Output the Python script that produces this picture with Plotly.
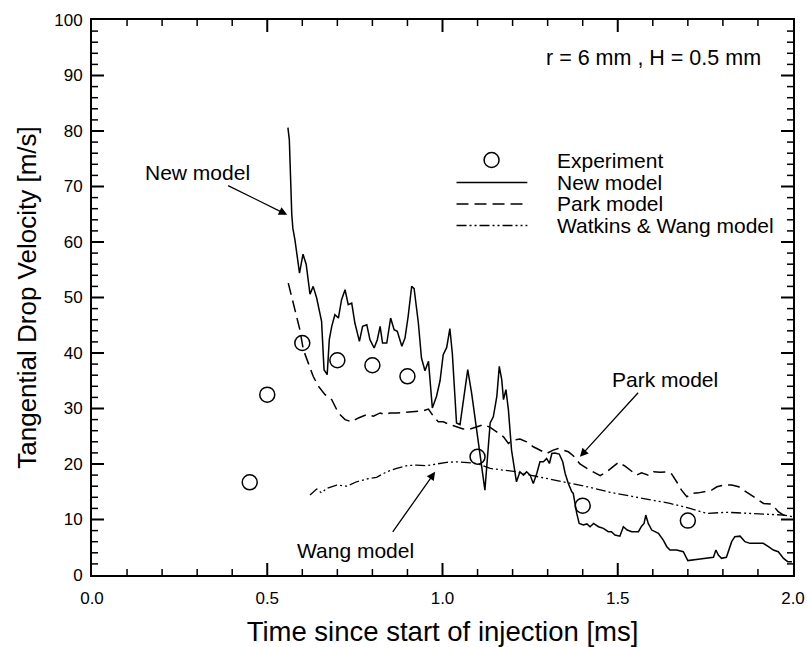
import plotly.graph_objects as go

# ---------------- data ----------------
exp_t = [0.45, 0.50, 0.60, 0.70, 0.80, 0.90, 1.10, 1.40, 1.70]
exp_v = [16.7, 32.5, 41.8, 38.7, 37.8, 35.8, 21.3, 12.5, 9.8]

new_t = [0.559, 0.563, 0.570, 0.573, 0.579, 0.592, 0.602, 0.611, 0.622, 0.631,
         0.641, 0.655, 0.662, 0.671, 0.677, 0.684, 0.693, 0.703, 0.712, 0.722,
         0.731, 0.741, 0.750, 0.763, 0.772, 0.784, 0.793, 0.805, 0.814, 0.822,
         0.829, 0.841, 0.852, 0.862, 0.871, 0.884, 0.893, 0.902, 0.912, 0.919,
         0.931, 0.940, 0.950, 0.960, 0.971, 0.983, 0.993, 1.002, 1.012, 1.021,
         1.028, 1.040, 1.050, 1.062, 1.072, 1.083, 1.121, 1.136, 1.145, 1.155,
         1.162, 1.169, 1.174, 1.181, 1.188, 1.197, 1.211, 1.221, 1.231, 1.240,
         1.250, 1.259, 1.269, 1.278, 1.288, 1.297, 1.305, 1.312, 1.321, 1.333,
         1.343, 1.350, 1.359, 1.369, 1.373, 1.383, 1.390, 1.402, 1.412, 1.421,
         1.431, 1.445, 1.459, 1.473, 1.482, 1.492, 1.506, 1.516, 1.527, 1.540,
         1.559, 1.568, 1.575, 1.580, 1.587, 1.597, 1.606, 1.616, 1.630, 1.640,
         1.649, 1.668, 1.687, 1.700, 1.735, 1.773, 1.780, 1.787, 1.796, 1.810,
         1.825, 1.834, 1.849, 1.863, 1.877, 1.915, 1.930, 1.944, 1.958, 1.973,
         1.985, 1.997]
new_v = [80.6, 78.4, 64.9, 62.5, 60.4, 54.4, 57.8, 56.0, 50.6, 52.0,
         49.9, 45.7, 37.0, 36.1, 42.4, 44.8, 46.9, 46.3, 49.6, 51.4,
         48.7, 49.0, 45.4, 42.1, 44.8, 45.1, 42.4, 40.9, 42.4, 44.8,
         41.8, 41.8, 46.3, 44.2, 43.9, 41.2, 42.7, 46.6, 52.0, 51.6,
         45.5, 39.1, 36.8, 38.5, 30.1, 32.2, 35.0, 39.7, 41.0, 44.4,
         40.0, 27.4, 27.1, 32.2, 37.0, 32.8, 15.3, 27.4, 28.5, 32.2,
         37.6, 35.2, 31.6, 33.4, 29.8, 22.5, 16.8, 18.6, 18.0, 18.6,
         18.0, 16.5, 18.3, 20.4, 20.4, 21.0, 20.1, 21.9, 22.0, 21.8,
         20.4, 18.3, 16.5, 15.0, 14.7, 11.1, 9.3, 9.0, 9.2, 8.7,
         9.3, 8.7, 8.4, 7.8, 7.8, 7.2, 7.0, 8.7, 8.1, 7.8,
         7.8, 8.8, 9.3, 10.8, 9.3, 8.1, 7.8, 7.5, 6.3, 5.1,
         4.5, 4.5, 4.2, 2.6, 2.9, 3.2, 4.5, 3.6, 3.0, 3.2,
         6.0, 6.9, 7.0, 6.0, 5.7, 5.7, 5.1, 4.5, 4.2, 3.0,
         2.4, 2.4]

park_t = [0.560, 0.579, 0.593, 0.603, 0.617, 0.631, 0.646, 0.665, 0.684, 0.703,
          0.722, 0.741, 0.760, 0.784, 0.803, 0.822, 0.836, 0.850, 0.869, 0.888,
          0.907, 0.926, 0.945, 0.960, 0.974, 0.988, 1.002, 1.021, 1.040, 1.059,
          1.078, 1.097, 1.117, 1.136, 1.155, 1.174, 1.188, 1.202, 1.221, 1.240,
          1.259, 1.278, 1.297, 1.316, 1.330, 1.345, 1.359, 1.373, 1.392, 1.412,
          1.431, 1.450, 1.469, 1.488, 1.502, 1.521, 1.535, 1.554, 1.568, 1.587,
          1.602, 1.621, 1.640, 1.654, 1.668, 1.682, 1.697, 1.711, 1.730, 1.749,
          1.768, 1.783, 1.802, 1.825, 1.845, 1.859, 1.873, 1.892, 1.916, 1.935,
          1.946, 1.958, 1.973, 1.992]
park_v = [52.6, 47.5, 44.2, 40.6, 38.2, 35.8, 34.0, 32.5, 31.6, 29.2,
          28.0, 27.6, 28.3, 28.9, 28.6, 29.2, 28.9, 29.2, 29.2, 29.3,
          29.5, 29.5, 29.6, 29.9, 28.6, 27.6, 27.6, 27.1, 26.7, 26.3,
          26.3, 26.7, 27.1, 26.6, 25.8, 24.9, 23.7, 24.3, 24.5, 24.0,
          23.1, 22.5, 21.9, 22.5, 22.8, 22.5, 22.2, 21.5, 20.0, 19.2,
          18.6, 17.9, 18.6, 19.5, 20.3, 19.6, 18.9, 18.0, 18.4, 18.0,
          18.6, 18.5, 18.6, 18.2, 16.8, 15.3, 14.1, 14.7, 14.8, 15.0,
          15.3, 15.9, 16.2, 16.2, 15.9, 15.3, 14.7, 13.8, 12.9, 12.8,
          12.3, 11.4, 10.8, 10.5]

ww_t = [0.622, 0.641, 0.655, 0.670, 0.698, 0.727, 0.755, 0.784, 0.812, 0.841,
        0.869, 0.898, 0.926, 0.955, 0.983, 1.012, 1.040, 1.069, 1.098, 1.136,
        1.174, 1.211, 1.250, 1.307, 1.364, 1.421, 1.478, 1.535, 1.592, 1.649,
        1.706, 1.754, 1.811, 1.868, 1.925, 1.973, 2.000]
ww_v = [14.4, 15.5, 14.8, 15.6, 16.2, 16.0, 16.8, 17.3, 17.6, 18.6,
        19.2, 19.7, 19.8, 19.7, 20.0, 20.3, 20.4, 20.3, 20.1, 19.2,
        18.9, 18.6, 18.0, 17.3, 16.6, 15.8, 14.9, 14.2, 13.5, 12.9,
        12.0, 11.1, 11.3, 11.1, 11.0, 10.8, 10.5]

series_names = ["Experiment", "New model", "Park model", "Watkins & Wang model"]
x_ticks = [0.0, 0.5, 1.0, 1.5, 2.0]
y_ticks = [0, 10, 20, 30, 40, 50, 60, 70, 80, 90, 100]
x_minor_ticks = [0.1, 0.2, 0.3, 0.4, 0.6, 0.7, 0.8, 0.9, 1.1, 1.2, 1.3, 1.4,
                 1.6, 1.7, 1.8, 1.9]
y_minor_ticks = [v for v in range(2, 100, 2) if v % 10 != 0]
X_RANGE = [0, 2]
Y_RANGE = [0, 100]

FONT = "Liberation Sans, Arial, Helvetica, sans-serif"
DASH_PARK = "12px,6px"
DASH_WW = "10px,3px,2px,3px,2px,3px"

W, H = 807, 647
M = dict(l=92, r=14, t=20, b=72)
PLOT_W = W - M["l"] - M["r"]
PLOT_H = H - M["t"] - M["b"]

fig = go.Figure()
fig.add_trace(go.Scatter(x=new_t, y=new_v, mode="lines", name=series_names[1],
                         line=dict(color="black", width=1.5), showlegend=False))
fig.add_trace(go.Scatter(x=park_t, y=park_v, mode="lines", name=series_names[2],
                         line=dict(color="black", width=1.5, dash=DASH_PARK), showlegend=False))
fig.add_trace(go.Scatter(x=ww_t, y=ww_v, mode="lines", name=series_names[3],
                         line=dict(color="black", width=1.3, dash=DASH_WW), showlegend=False))
fig.add_trace(go.Scatter(x=exp_t, y=exp_v, mode="markers", name=series_names[0],
                         marker=dict(symbol="circle-open", size=15, color="black",
                                     line=dict(width=1.5, color="black")),
                         showlegend=False))


# ---------- inward tick marks on all four sides, drawn through the axis scales ----------
def tick_segments(xvals, yvals, len_px):
    dx = len_px * (X_RANGE[1] - X_RANGE[0]) / PLOT_W
    dy = len_px * (Y_RANGE[1] - Y_RANGE[0]) / PLOT_H
    xs, ys = [], []
    for v in xvals:
        xs += [v, v, None, v, v, None]
        ys += [Y_RANGE[0], Y_RANGE[0] + dy, None, Y_RANGE[1] - dy, Y_RANGE[1], None]
    for v in yvals:
        xs += [X_RANGE[0], X_RANGE[0] + dx, None, X_RANGE[1] - dx, X_RANGE[1], None]
        ys += [v, v, None, v, v, None]
    return xs, ys


for xv, yv, ln, wd in [(x_ticks[1:-1], y_ticks[1:-1], 12, 2.0),
                       (x_minor_ticks, y_minor_ticks, 6, 1.5)]:
    tx, ty = tick_segments(xv, yv, ln)
    fig.add_trace(go.Scatter(x=tx, y=ty, mode="lines", showlegend=False,
                             hoverinfo="skip", connectgaps=False,
                             line=dict(color="black", width=wd)))

shapes = []
# ---------- manual legend (paper coords) ----------
leg_x0, leg_x1, leg_sym, leg_txt = 0.520, 0.621, 0.570, 0.660
leg_rows = [0.7477, 0.7072, 0.6685, 0.6297]
shapes.append(dict(type="circle", xref="paper", yref="paper", xsizemode="pixel",
                   ysizemode="pixel", xanchor=leg_sym, yanchor=leg_rows[0],
                   x0=-7.5, x1=7.5, y0=-7.5, y1=7.5, opacity=1,
                   fillcolor="rgba(0,0,0,0)",
                   line=dict(color="black", width=1.5)))
for row, dash in zip(leg_rows[1:], ["solid", DASH_PARK, DASH_WW]):
    shapes.append(dict(type="line", xref="paper", yref="paper", opacity=1,
                       x0=leg_x0, x1=leg_x1, y0=row, y1=row,
                       line=dict(color="black", width=1.5, dash=dash)))

annotations = []
for row, name in zip(leg_rows, series_names):
    annotations.append(dict(x=leg_txt, y=row, xref="paper", yref="paper", text=name,
                            showarrow=False, xanchor="left", yanchor="middle",
                            font=dict(size=21, color="black", family=FONT)))

annotations.append(dict(x=1.913, y=93.2, xref="x", yref="y", text="r = 6 mm , H = 0.5 mm",
                        showarrow=False, xanchor="right", yanchor="middle",
                        font=dict(size=21.5, color="black", family=FONT)))

labels = [("New model", 0.302, 72.5), ("Park model", 1.635, 35.2), ("Wang model", 0.753, 4.5)]
for txt, lx, ly in labels:
    annotations.append(dict(x=lx, y=ly, xref="x", yref="y", text=txt, showarrow=False,
                            xanchor="center", yanchor="middle",
                            font=dict(size=21, color="black", family=FONT)))
arrows = [((0.557, 64.9), (0.384, 70.3)),
          ((1.392, 21.3), (1.562, 33.1)),
          ((0.979, 18.6), (0.855, 7.5))]
for (hx, hy), (tx, ty) in arrows:
    annotations.append(dict(x=hx, y=hy, ax=tx, ay=ty, xref="x", yref="y", axref="x", ayref="y",
                            text="", showarrow=True, arrowhead=2, arrowsize=1.3,
                            arrowwidth=1.3, arrowcolor="black"))

fig.update_layout(
    template="none",
    width=W, height=H,
    margin=dict(autoexpand=False, **M),
    paper_bgcolor="white", plot_bgcolor="white",
    font=dict(family=FONT, color="black", size=17),
    shapes=shapes, annotations=annotations,
    showlegend=False,
    xaxis=dict(range=X_RANGE, tickvals=x_ticks, tickformat=".1f",
               showgrid=False, zeroline=False, showline=True, linewidth=2,
               linecolor="black", mirror=True, ticks="", ticklabelstandoff=7,
               automargin=False, tickfont=dict(size=17, color="black", family=FONT),
               title=dict(text="Time since start of injection [ms]", standoff=27,
                          font=dict(size=27.5, color="black", family=FONT))),
    yaxis=dict(range=Y_RANGE, tickvals=y_ticks,
               showgrid=False, zeroline=False, showline=True, linewidth=2,
               linecolor="black", mirror=True, ticks="", ticklabelstandoff=4,
               automargin=False, tickfont=dict(size=17, color="black", family=FONT),
               title=dict(text="Tangential Drop Velocity [m/s]", standoff=10,
                          font=dict(size=26, color="black", family=FONT))),
)

fig.write_html("out.html")
